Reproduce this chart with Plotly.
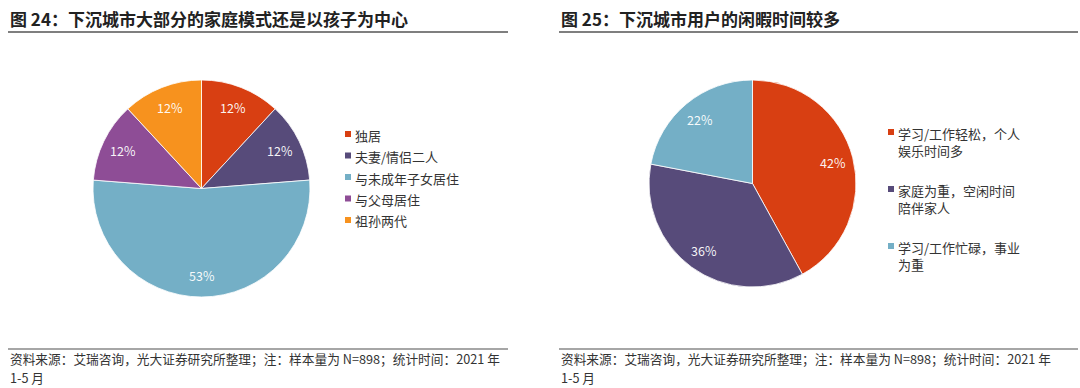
import math
import plotly.graph_objects as go

# Data
left_labels = ["独居", "夫妻/情侣二人", "与未成年子女居住", "与父母居住", "祖孙两代"]
left_values = [12, 12, 53, 12, 12]
right_labels = ["学习/工作轻松，个人<br>娱乐时间多", "家庭为重，空闲时间<br>陪伴家人", "学习/工作忙碌，事业<br>为重"]
right_values = [42, 36, 22]

left_title = "图 24：下沉城市大部分的家庭模式还是以孩子为中心"
right_title = "图 25：下沉城市用户的闲暇时间较多"
source_line1 = "资料来源：艾瑞咨询，光大证券研究所整理；注：样本量为 N=898；统计时间：2021 年"
source_line2 = "1-5 月"

left_colors = ["#D83F12", "#574B7A", "#74AFC6", "#8E4D96", "#F7921E"]
right_colors = ["#D83F12", "#574B7A", "#74AFC6"]

W, H = 1080, 388
FONT = "Noto Sans CJK SC"


def px_x(v):
    return v / W


def px_y(v):
    return 1 - v / H


fig = go.Figure()

# pie geometry (layout, in pixels): left, top, size
pies = [
    dict(labels=left_labels, values=left_values, colors=left_colors, x0=93, y0=80, size=217),
    dict(labels=right_labels, values=right_values, colors=right_colors, x0=649, y0=80, size=207),
]

for p in pies:
    fig.add_trace(go.Pie(
        labels=p["labels"], values=p["values"], sort=False, direction="clockwise", rotation=0,
        marker=dict(colors=p["colors"], line=dict(color="white", width=0.8)),
        textinfo="none", showlegend=False,
        domain=dict(x=[px_x(p["x0"]), px_x(p["x0"] + p["size"])],
                    y=[px_y(p["y0"] + p["size"]), px_y(p["y0"])]),
        hoverinfo="label+value",
    ))
    # value labels placed inside each slice, derived from the values
    total = sum(p["values"])
    cx = p["x0"] + p["size"] / 2
    cy = p["y0"] + p["size"] / 2
    r = 0.8 * p["size"] / 2
    cum = 0
    for v in p["values"]:
        mid = (cum + v / 2) / total * 2 * math.pi
        cum += v
        fig.add_annotation(x=px_x(cx + r * math.sin(mid)), y=px_y(cy - r * math.cos(mid)),
                           xref="paper", yref="paper", xanchor="center", yanchor="middle",
                           text=f"{v}%", showarrow=False,
                           font=dict(size=12.5, color="rgba(255,255,255,0.95)", family=FONT))

# custom legends (small squares like the reference)
legends = [
    dict(labels=left_labels, colors=left_colors, sx=345, ty=134, step=21.5),
    dict(labels=right_labels, colors=right_colors, sx=888, ty=132, step=57),
]
for lg in legends:
    for i, (lab, col) in enumerate(zip(lg["labels"], lg["colors"])):
        y = lg["ty"] + i * lg["step"]
        fig.add_shape(type="rect", xref="paper", yref="paper",
                      x0=px_x(lg["sx"]), x1=px_x(lg["sx"] + 6), y0=px_y(y + 3), y1=px_y(y - 3),
                      fillcolor=col, line=dict(width=0))
        fig.add_annotation(x=px_x(lg["sx"] + 9), y=px_y(y - 9.5), xref="paper", yref="paper",
                           xanchor="left", yanchor="top", align="left", text=lab, showarrow=False,
                           borderpad=0, font=dict(size=13, color="#333333", family=FONT))

fig.update_layout(
    width=W, height=H,
    margin=dict(l=0, r=0, t=0, b=0),
    paper_bgcolor="white", plot_bgcolor="white",
    font=dict(family=FONT, color="#333333"),
    showlegend=False,
)

# titles and source notes
for x0, t in [(8, left_title), (559, right_title)]:
    fig.add_annotation(x=px_x(x0), y=px_y(18), xref="paper", yref="paper", xanchor="left", yanchor="middle",
                       text="<b>" + t + "</b>", showarrow=False,
                       font=dict(size=17, color="#222222", family=FONT))
    fig.add_annotation(x=px_x(x0), y=px_y(358), xref="paper", yref="paper", xanchor="left", yanchor="middle",
                       text=source_line1, showarrow=False, align="left",
                       font=dict(size=12.7, color="#333333", family=FONT))
    fig.add_annotation(x=px_x(x0), y=px_y(377), xref="paper", yref="paper", xanchor="left", yanchor="middle",
                       text=source_line2, showarrow=False, align="left",
                       font=dict(size=12.7, color="#333333", family=FONT))

# rules under titles and above notes
for x0, x1 in [(8, 508), (559, 1078)]:
    fig.add_shape(type="line", xref="paper", yref="paper", x0=px_x(x0), x1=px_x(x1), y0=px_y(32), y1=px_y(32),
                  line=dict(color="#555555", width=1.5))
    fig.add_shape(type="line", xref="paper", yref="paper", x0=px_x(x0), x1=px_x(x1), y0=px_y(349), y1=px_y(349),
                  line=dict(color="#888888", width=1.5))

fig.write_html("out.html", config={"displayModeBar": False},
               post_script="document.body.style.margin='0';document.body.style.padding='0';")
